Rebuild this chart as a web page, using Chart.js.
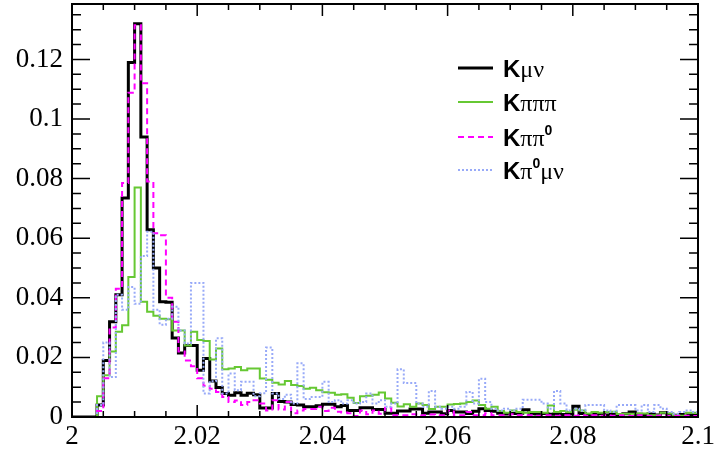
<!DOCTYPE html>
<html>
<head>
<meta charset="utf-8">
<script src="https://cdn.jsdelivr.net/npm/chart.js@4.4.0/dist/chart.umd.min.js"></script>
<style>
  html, body { margin: 0; padding: 0; background: #fff; }
  #wrap { width: 715px; height: 456px; }
</style>
</head>
<body>
<div id="wrap"><canvas id="grafica" width="715" height="456"></canvas></div>
<script>
// Histograma: 100 bins de 2.0 a 2.1
const xMin = 2.0, xMax = 2.1, binW = 0.001;
const yMax = 0.1386;
const xTicks = [2, 2.02, 2.04, 2.06, 2.08, 2.1];
const yTicks = [0, 0.02, 0.04, 0.06, 0.08, 0.1, 0.12];

const kmunu = [
  0, 0, 0, 0, 0.004, 0.019, 0.032, 0.041, 0.0735, 0.119,
  0.132, 0.094, 0.0628, 0.050, 0.0387, 0.0385, 0.0265, 0.0215, 0.024, 0.024,
  0.0157, 0.0196, 0.0121, 0.0099, 0.0079, 0.0073, 0.0081, 0.0073, 0.008, 0.0075,
  0.003, 0.003, 0.0079, 0.0052, 0.005, 0.0042, 0.004, 0.0034, 0.0034, 0.0038,
  0.0043, 0.0043, 0.0034, 0.0039, 0.0022, 0.0022, 0.0031, 0.0031, 0.0025, 0.0025,
  0.0013, 0.0013, 0.002, 0.002, 0.0027, 0.0027, 0.0013, 0.0017, 0.0017, 0.0011,
  0.0022, 0.0017, 0.0017, 0.0012, 0.0019, 0.0028, 0.0022, 0.0019, 0.0013, 0.001,
  0.0012, 0.0013, 0.0024, 0.0011, 0.001, 0.0012, 0.0009, 0.0011, 0.0008, 0.001,
  0.0036, 0.0012, 0.0008, 0.0009, 0.0011, 0.0007, 0.0009, 0.0008, 0.0011, 0.0017,
  0.0009, 0.0008, 0.001, 0.0007, 0.0014, 0.0009, 0.0006, 0.0008, 0.0007, 0.0006
];
const kpipipi = [
  0, 0, 0, 0, 0.007, 0.014, 0.022, 0.0286, 0.0308, 0.047,
  0.077, 0.0387, 0.0353, 0.034, 0.033, 0.0328, 0.029, 0.029, 0.024, 0.0286,
  0.0258, 0.0255, 0.0193, 0.023, 0.016, 0.0163, 0.0168, 0.0157, 0.0163, 0.0163,
  0.0129, 0.0125, 0.0115, 0.0109, 0.0121, 0.0107, 0.0104, 0.0095, 0.0098, 0.009,
  0.0083, 0.0081, 0.0075, 0.0076, 0.0065, 0.0047, 0.007, 0.0071, 0.0075, 0.0082,
  0.0062, 0.0048, 0.0035, 0.0043, 0.0034, 0.0045, 0.004, 0.0027, 0.0034, 0.0034,
  0.0042, 0.0044, 0.0045, 0.005, 0.0055, 0.004, 0.0028, 0.0034, 0.002, 0.0014,
  0.0022, 0.0017, 0.0014, 0.0017, 0.0017, 0.0014, 0.0039, 0.0017, 0.002, 0.0017,
  0.0024, 0.0022, 0.0012, 0.0017, 0.0014, 0.0017, 0.0018, 0.001, 0.0011, 0.0011,
  0.0012, 0.0012, 0.0006, 0.0006, 0.0014, 0.0012, 0.0006, 0.0004, 0.0014, 0.0014
];
const kpipi0 = [
  0, 0, 0, 0, 0.002, 0.013, 0.030, 0.043, 0.0785, 0.1088,
  0.1315, 0.112, 0.079, 0.0617, 0.061, 0.040, 0.032, 0.022, 0.019, 0.017,
  0.013, 0.0105, 0.0095, 0.0084, 0.0067, 0.005, 0.0055, 0.004, 0.005, 0.0056,
  0.0045, 0.0022, 0.0056, 0.0025, 0.005, 0.0013, 0.0022, 0.0027, 0.0027, 0.0034,
  0.002, 0.0031, 0.0018, 0.0015, 0.0013, 0.0003, 0.0022, 0.0009, 0.0022, 0.0011,
  0.0031, 0.0006, 0.0006, 0.0006, 0.0009, 0.0005, 0.0006, 0.0008, 0.0006, 0.0006,
  0.0022, 0.0006, 0.0006, 0.0017, 0.0006, 0.0006, 0.0013, 0.0006, 0.0006, 0.0006,
  0.0009, 0.0006, 0.0006, 0.0006, 0.0004, 0.0006, 0.0006, 0.0004, 0.0006, 0.0006,
  0.0004, 0.0006, 0.0003, 0.0006, 0.0004, 0.0006, 0.0004, 0.0006, 0.0004, 0.0003,
  0.0006, 0.0004, 0.0003, 0.0004, 0.0006, 0.0003, 0.0004, 0.0003, 0.0004, 0.0003
];
const kpi0munu = [
  0, 0, 0, 0, 0.004, 0.025, 0.0134, 0.041, 0.036, 0.0436,
  0.038, 0.054, 0.0622, 0.036, 0.031, 0.033, 0.037, 0.029, 0.0247, 0.045,
  0.045, 0.0079, 0.012, 0.0264, 0.0079, 0.0146, 0.009, 0.0118, 0.0118, 0.007,
  0.008, 0.0233, 0.0079, 0.006, 0.0075, 0.0045, 0.018, 0.006, 0.0067, 0.0067,
  0.0118, 0.005, 0.0056, 0.0045, 0.0056, 0.0045, 0.005, 0.0079, 0.0045, 0.0056,
  0.0034, 0.0045, 0.016, 0.0114, 0.0114, 0.0045, 0.0034, 0.0087, 0.0034, 0.0028,
  0.0034, 0.0028, 0.0034, 0.0084, 0.0045, 0.0128, 0.005, 0.0028, 0.0022, 0.0028,
  0.0022, 0.0028, 0.0058, 0.0058, 0.0058, 0.0045, 0.0028, 0.0087, 0.0045, 0.0022,
  0.0028, 0.0022, 0.004, 0.004, 0.004, 0.0022, 0.0017, 0.004, 0.004, 0.004,
  0.0022, 0.004, 0.0017, 0.004, 0.0028, 0.0017, 0.0011, 0.0017, 0.0022, 0.0017
];

// bordes izquierdos de cada bin + borde final
function puntos(vals) {
  const pts = vals.map((v, i) => ({ x: xMin + i * binW, y: v }));
  pts.push({ x: xMax, y: vals[vals.length - 1] });
  return pts;
}

const series = [
  { label: "Kμν", data: kmunu, color: "#000000", width: 3, dash: [], order: 4 },
  { label: "Kπππ", data: kpipipi, color: "#66c833", width: 2, dash: [], order: 3 },
  { label: "Kππ0", data: kpipi0, color: "#ff00ff", width: 2, dash: [6, 4], order: 2 },
  { label: "Kπ0μν", data: kpi0munu, color: "#98aaf8", width: 2, dash: [2, 2], order: 1 }
];

// Leyenda: K en negrita + griegas, el 0 como superindice
const leyendaPartes = [
  [["K", "b"], ["μν", "g"]],
  [["K", "b"], ["πππ", "g"]],
  [["K", "b"], ["ππ", "g"], ["0", "s"]],
  [["K", "b"], ["π", "g"], ["0", "s"], ["μν", "g"]]
];

const fuentes = {
  b: "bold 24px 'Liberation Sans'",
  g: "24px 'Liberation Serif'",
  s: "bold 14px 'Liberation Sans'"
};

// Marco y ticks estilo ROOT (hacia dentro, en los 4 lados)
const marcoRoot = {
  id: "marcoRoot",
  afterDatasetsDraw(chart) {
    const { ctx, chartArea: a, scales } = chart;
    const sx = scales.x, sy = scales.y;
    ctx.save();
    ctx.strokeStyle = "#000";
    ctx.lineWidth = 1.5;
    ctx.beginPath();
    for (let k = 0; k <= 20; k++) {
      const px = sx.getPixelForValue(xMin + k * 0.005);
      const len = k % 4 === 0 ? 12 : 6;
      ctx.moveTo(px, a.bottom); ctx.lineTo(px, a.bottom - len);
      ctx.moveTo(px, a.top); ctx.lineTo(px, a.top + len);
    }
    for (let k = 0; k * 0.005 <= yMax; k++) {
      const py = sy.getPixelForValue(k * 0.005);
      const len = k % 4 === 0 ? 18 : 9;
      ctx.moveTo(a.left, py); ctx.lineTo(a.left + len, py);
      ctx.moveTo(a.right, py); ctx.lineTo(a.right - len, py);
    }
    ctx.stroke();
    ctx.lineWidth = 2;
    ctx.strokeRect(a.left, a.top, a.right - a.left, a.bottom - a.top);
    ctx.restore();
  },
  afterDraw(chart) {
    const ctx = chart.ctx;
    const filas = [68, 102, 137, 170];
    ctx.save();
    series.forEach((s, i) => {
      const y = filas[i];
      ctx.strokeStyle = s.color;
      ctx.lineWidth = s.width;
      ctx.setLineDash(s.dash);
      ctx.beginPath();
      ctx.moveTo(458, y);
      ctx.lineTo(493, y);
      ctx.stroke();
      ctx.setLineDash([]);
      ctx.fillStyle = "#000";
      ctx.textBaseline = "alphabetic";
      let x = 503;
      leyendaPartes[i].forEach(([txt, tipo]) => {
        ctx.font = fuentes[tipo];
        const base = tipo === "s" ? y - 2 : y + 9;
        ctx.fillText(txt, x, base);
        x += ctx.measureText(txt).width;
      });
    });
    ctx.restore();
  }
};

const ctx = document.getElementById("grafica").getContext("2d");
new Chart(ctx, {
  type: "line",
  data: {
    datasets: series.map((s) => ({
      label: s.label,
      data: puntos(s.data),
      borderColor: s.color,
      borderWidth: s.width,
      borderDash: s.dash,
      stepped: true,
      pointRadius: 0,
      fill: false,
      order: s.order
    }))
  },
  options: {
    responsive: false,
    animation: false,
    events: [],
    layout: { padding: { left: 0, right: 17, top: 4, bottom: 0 } },
    scales: {
      x: {
        type: "linear",
        min: xMin,
        max: xMax,
        grid: { display: false, drawTicks: false },
        border: { display: false },
        afterBuildTicks: (scale) => { scale.ticks = xTicks.map((v) => ({ value: v })); },
        afterFit: (scale) => { scale.height = 39; scale.paddingLeft = 0; scale.paddingRight = 0; },
        ticks: {
          autoSkip: false,
          maxRotation: 0,
          padding: 4,
          color: "#000",
          font: { family: "Liberation Serif", size: 27 },
          callback: (v) => String(+v.toFixed(2))
        }
      },
      y: {
        type: "linear",
        min: 0,
        max: yMax,
        grid: { display: false, drawTicks: false },
        border: { display: false },
        afterBuildTicks: (scale) => { scale.ticks = yTicks.map((v) => ({ value: v })); },
        afterFit: (scale) => { scale.width = 72; scale.paddingTop = 0; scale.paddingBottom = 0; },
        ticks: {
          autoSkip: false,
          padding: 9,
          color: "#000",
          font: { family: "Liberation Serif", size: 27 },
          callback: (v) => String(+v.toFixed(2))
        }
      }
    },
    plugins: {
      legend: { display: false },
      tooltip: { enabled: false }
    }
  },
  plugins: [marcoRoot]
});
</script>
</body>
</html>
